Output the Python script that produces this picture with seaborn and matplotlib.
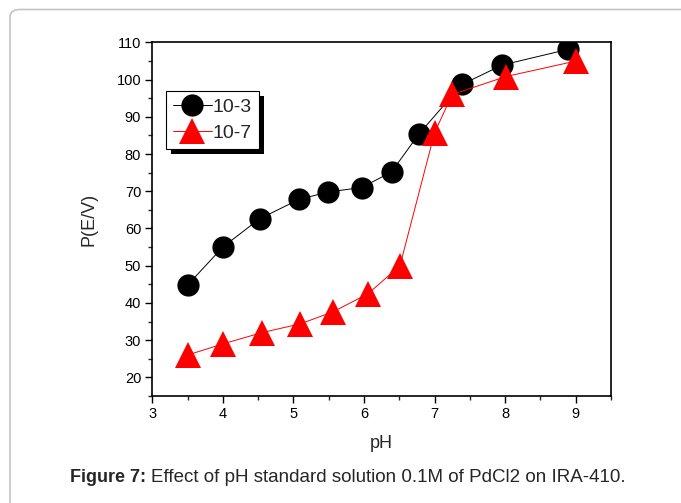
import pandas as pd
import seaborn as sns
import matplotlib.pyplot as plt
import matplotlib.patches as mpatches
from matplotlib.ticker import MultipleLocator


# data
ph_black = [3.5, 4.0, 4.52, 5.08, 5.49, 5.97, 6.39, 6.78, 7.39, 7.96, 8.89]
p_black = [44.8, 55.0, 62.6, 67.8, 69.8, 71.0, 75.2, 85.4, 98.7, 103.9, 108.1]

ph_red = [3.5, 4.0, 4.55, 5.1, 5.56, 6.06, 6.51, 7.0, 7.25, 8.01, 9.01]
p_red = [26.0, 29.0, 32.0, 34.4, 37.6, 42.5, 50.0, 85.7, 96.0, 100.8, 105.0]

series_labels = ["10-3", "10-7"]
x_ticks = [3, 4, 5, 6, 7, 8, 9]
y_ticks = [20, 30, 40, 50, 60, 70, 80, 90, 100, 110]

sns.set_style("ticks")
plt.rcParams["font.family"] = ["Liberation Sans", "DejaVu Sans"]

fig = plt.figure(figsize=(6.81, 5.03), dpi=100)
ax = fig.add_axes([0.2236, 0.2127, 0.6736, 0.7032])

black = pd.DataFrame({"pH": ph_black, "P": p_black})
red = pd.DataFrame({"pH": ph_red, "P": p_red})

sns.lineplot(data=black, x="pH", y="P", ax=ax, color="black", lw=0.7,
             marker="o", markersize=16, markeredgewidth=0, sort=False,
             label=series_labels[0])
sns.lineplot(data=red, x="pH", y="P", ax=ax, color="red", lw=0.7,
             marker="^", markersize=19, markeredgewidth=0, sort=False,
             label=series_labels[1])

ax.set_xlim(3, 9.5)
ax.set_ylim(15, 110)
ax.set_xticks(x_ticks)
ax.set_yticks(y_ticks)
ax.xaxis.set_minor_locator(MultipleLocator(0.5))
ax.yaxis.set_minor_locator(MultipleLocator(5))
ax.tick_params(which="major", length=5, width=1, labelsize=10.5, pad=3, colors="black")
ax.tick_params(which="minor", length=3, width=1)
for s in ax.spines.values():
    s.set_linewidth(1.2)
    s.set_color("black")

ax.set_xlabel("pH", fontsize=13, labelpad=10)
ax.set_ylabel("P(E/V)", fontsize=13, labelpad=14)

leg = ax.legend(loc="upper left", bbox_to_anchor=(0.03, 0.862), fontsize=14,
                frameon=True, fancybox=False, edgecolor="black", framealpha=1,
                handlelength=2.0, handletextpad=0.05, borderpad=0.35,
                labelspacing=0.45, borderaxespad=0)
leg.get_frame().set_linewidth(0.8)

# solid black drop shadow behind the legend
fig.canvas.draw()
bb = leg.get_window_extent().transformed(fig.transFigure.inverted())
shadow = mpatches.Rectangle((bb.x0 + 5 / 681, bb.y0 - 5 / 503), bb.width, bb.height,
                            transform=fig.transFigure, facecolor="black",
                            edgecolor="none", zorder=4.5)
ax.add_artist(shadow)
shadow.set_clip_on(False)

# outer frame of the figure panel
frame = mpatches.FancyBboxPatch((10 / 681, -0.05), 1.2, 0.05 + 1 - 9.5 / 503,
                                boxstyle="round,pad=0,rounding_size=0.015",
                                transform=fig.transFigure, fill=False,
                                edgecolor="#c4c4c4", lw=1.2)
fig.patches.append(frame)

# caption: bold label + normal text, right end at the reference position
cap_y = 1 - 478 / 503
body = fig.text(626 / 681, cap_y,
                "Effect of pH standard solution 0.1M of PdCl2 on IRA-410.",
                fontsize=13.5, ha="right", va="center")
fig.canvas.draw()
bx = body.get_window_extent().x0 / fig.bbox.width
fig.text(bx - 5 / 681, cap_y, "Figure 7:", fontsize=13, fontweight="bold",
         ha="right", va="center")

fig.savefig("out.png", dpi=100)
